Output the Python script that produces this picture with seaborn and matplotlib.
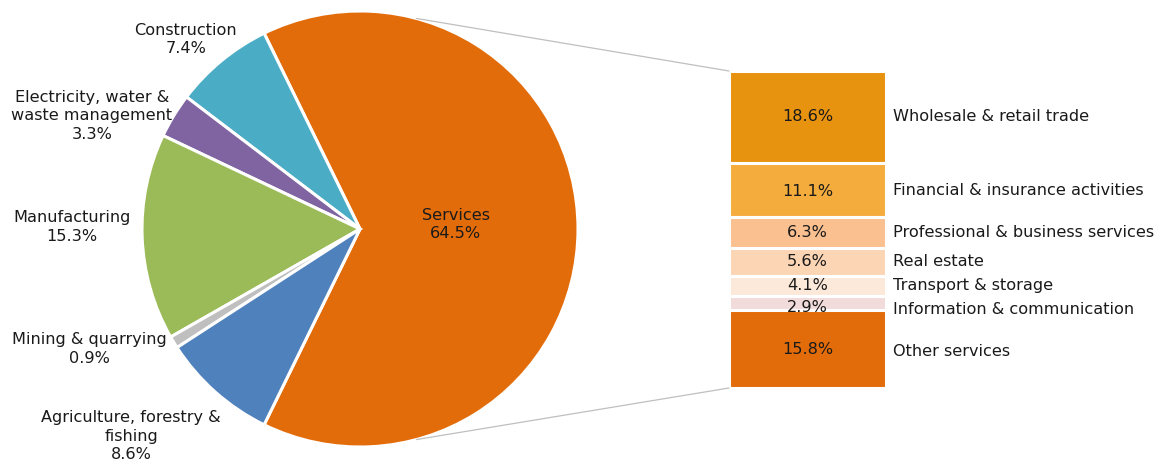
import numpy as np
import matplotlib
matplotlib.use("Agg")
import matplotlib.pyplot as plt
from matplotlib.patches import ConnectionPatch
import seaborn as sns

# Gross value added by sector (share of total, %)
sectors = ["Services", "Construction", "Electricity, water &\nwaste management",
           "Manufacturing", "Mining & quarrying", "Agriculture, forestry &\nfishing"]
sector_shares = [64.5, 7.4, 3.3, 15.3, 0.9, 8.6]
sector_colors = ["#E36C0A", "#4BACC6", "#8064A2", "#9BBB59", "#BFBFBF", "#4F81BD"]

# Breakdown of services (share of total, %), top to bottom
service_parts = ["Wholesale & retail trade", "Financial & insurance activities",
                 "Professional & business services", "Real estate",
                 "Transport & storage", "Information & communication",
                 "Other services"]
service_shares = [18.6, 11.1, 6.3, 5.6, 4.1, 2.9, 15.8]
service_colors = ["#E8930F", "#F4AC3C", "#FAC090", "#FCD5B5",
                  "#FDE9D9", "#F2DCDB", "#E36C0A"]

sns.set_theme(style="white")
plt.rcParams["font.family"] = ["DejaVu Sans"]
FS = 11.6
TXT = "#1a1a1a"

W, H = 1161, 462
fig = plt.figure(figsize=(W / 100, H / 100), dpi=100)

# ---- pie -------------------------------------------------------------
cx, cy, r = 360, 229, 218
ax_pie = fig.add_axes([(cx - r) / W, (H - cy - r) / H, 2 * r / W, 2 * r / H])
start = -sector_shares[0] / 100 * 360 / 2
wedges, _ = ax_pie.pie(sector_shares, colors=sector_colors, startangle=start,
                       counterclock=True, radius=1,
                       wedgeprops=dict(edgecolor="white", linewidth=2.2))
ax_pie.set_xlim(-1, 1)
ax_pie.set_ylim(-1, 1)
ax_pie.set_aspect("equal")
ax_pie.axis("off")

# label anchor points in pie units (x, y)
label_pos = [(0.44, 0.02), (-0.80, 0.87), (-1.23, 0.52), (-1.32, 0.01),
             (-1.24, -0.55), (-1.05, -0.95)]
for name, val, (lx, ly) in zip(sectors, sector_shares, label_pos):
    ax_pie.text(lx, ly, f"{name}\n{val:.1f}%", ha="center", va="center",
                fontsize=FS, color=TXT, linespacing=1.3, clip_on=False)

# ---- stacked services bar ---------------------------------------------
bx0, bx1, by0, by1 = 729, 886, 71, 388
ax_bar = fig.add_axes([bx0 / W, (H - by1) / H, (bx1 - bx0) / W, (by1 - by0) / H])
bottoms = np.concatenate([[0], np.cumsum(service_shares)[:-1]])
total = float(np.sum(service_shares))
ax_bar.bar([0] * len(service_shares), service_shares, bottom=bottoms, width=1,
           color=service_colors, edgecolor="white", linewidth=2.2)
ax_bar.set_xlim(-0.5, 0.5)
ax_bar.set_ylim(total, 0)
ax_bar.axis("off")

name_shift = [0, 0.2, 0, 0, 0, 1.4, 0.4]
val_shift = [0, 0.3, 0, 0, 0, 0.8, 0]
for name, val, b, ns, vs in zip(service_parts, service_shares, bottoms,
                                name_shift, val_shift):
    mid = b + val / 2
    ax_bar.text(0, mid + vs, f"{val:.1f}%", ha="center", va="center",
                fontsize=FS, color=TXT)
    ax_bar.annotate(name, xy=(0.5, mid + ns), xytext=(5, 0),
                    textcoords="offset points", ha="left", va="center",
                    fontsize=FS, color=TXT, annotation_clip=False)

# ---- connector lines from pie to bar ----------------------------------
ang = np.deg2rad(75)
for sgn, ybar in ((1, 0), (-1, total)):
    con = ConnectionPatch(xyA=(np.cos(ang), sgn * np.sin(ang)), coordsA=ax_pie.transData,
                          xyB=(-0.5, ybar), coordsB=ax_bar.transData,
                          color="#BFBFBF", linewidth=0.9)
    fig.add_artist(con)

fig.savefig("out.png", dpi=100, facecolor="white")
